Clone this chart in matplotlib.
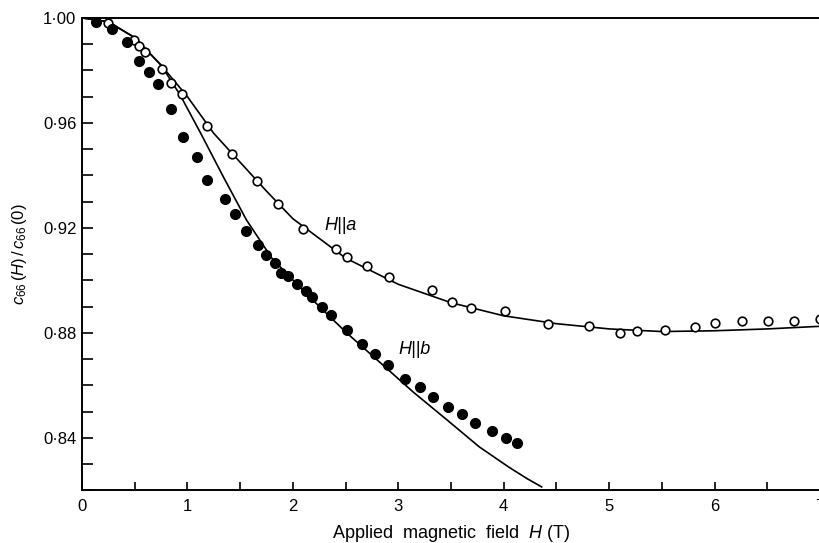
import matplotlib
matplotlib.use("Agg")
import matplotlib.pyplot as plt
from matplotlib.ticker import MultipleLocator, FuncFormatter

# H || a : open circles (field in T, normalised c66)
ha_field = [0.25, 0.49, 0.54, 0.60, 0.76, 0.84, 0.95, 1.19, 1.42, 1.66, 1.86, 2.10,
            2.41, 2.51, 2.70, 2.91, 3.32, 3.51, 3.69, 4.01, 4.42, 4.81, 5.10, 5.26,
            5.53, 5.81, 6.00, 6.26, 6.51, 6.75, 7.00]
ha_c66 = [0.9981, 0.9916, 0.9893, 0.9870, 0.9806, 0.9752, 0.9710, 0.9589, 0.9482,
          0.9379, 0.9291, 0.9196, 0.9120, 0.9090, 0.9055, 0.9013, 0.8964, 0.8918,
          0.8895, 0.8884, 0.8834, 0.8827, 0.8800, 0.8808, 0.8811, 0.8823, 0.8838,
          0.8846, 0.8846, 0.8846, 0.8853]

# H || b : filled circles
hb_field = [0.13, 0.28, 0.43, 0.54, 0.64, 0.72, 0.84, 0.96, 1.09, 1.19, 1.36, 1.45,
            1.56, 1.67, 1.75, 1.83, 1.89, 1.95, 2.04, 2.12, 2.18, 2.28, 2.36, 2.51,
            2.66, 2.78, 2.90, 3.06, 3.21, 3.33, 3.47, 3.60, 3.73, 3.89, 4.02, 4.13]
hb_c66 = [0.9985, 0.9958, 0.9909, 0.9836, 0.9794, 0.9749, 0.9653, 0.9547, 0.9470,
          0.9383, 0.9310, 0.9253, 0.9189, 0.9135, 0.9097, 0.9067, 0.9029, 0.9017,
          0.8987, 0.8960, 0.8937, 0.8899, 0.8869, 0.8811, 0.8758, 0.8720, 0.8678,
          0.8625, 0.8594, 0.8556, 0.8518, 0.8491, 0.8457, 0.8427, 0.8400, 0.8381]

# theory curves
fit_a_field = [0.0, 0.25, 0.5, 0.75, 1.0, 1.25, 1.5, 1.75, 2.0, 2.5, 3.0, 3.5, 4.0,
               4.5, 5.0, 5.5, 6.0, 6.5, 7.0]
fit_a_c66 = [1.0, 0.9985, 0.9925, 0.982, 0.970, 0.956, 0.945, 0.934, 0.9235, 0.9085,
             0.8985, 0.8915, 0.8865, 0.8835, 0.8815, 0.8805, 0.8808, 0.8815, 0.8825]

fit_b_field = [0.0, 0.25, 0.5, 0.75, 0.93, 1.12, 1.34, 1.56, 1.80, 2.04, 2.27, 2.51,
               2.83, 3.14, 3.46, 3.77, 4.05, 4.22, 4.36]
fit_b_c66 = [1.0, 0.9985, 0.9925, 0.982, 0.9707, 0.9565, 0.9395, 0.9230, 0.9085,
             0.8985, 0.8893, 0.8800, 0.8686, 0.8575, 0.8469, 0.8365, 0.8288, 0.8245,
             0.8213]

plt.rcParams['font.family'] = ['Liberation Sans', 'DejaVu Sans']
plt.rcParams['mathtext.fontset'] = 'custom'
plt.rcParams['mathtext.it'] = 'Liberation Sans:italic'
plt.rcParams['mathtext.rm'] = 'Liberation Sans'

fig = plt.figure(figsize=(8.2, 5.43), dpi=100)
ax = fig.add_axes([0.1, 0.097, 0.9, 0.870])

ax.plot(fit_a_field, fit_a_c66, color='black', lw=1.2)
ax.plot(fit_b_field, fit_b_c66, color='black', lw=1.2)
ax.plot(ha_field, ha_c66, 'o', ms=6.2, mfc='white', mec='black', mew=1.2, clip_on=False)
ax.plot(hb_field, hb_c66, 'o', ms=7, mfc='black', mec='black', clip_on=False)

ax.text(2.45, 0.921, 'H||a', fontsize=13, style='italic', ha='center', va='center')
ax.text(3.15, 0.8735, 'H||b', fontsize=13, style='italic', ha='center', va='center')

ax.set_xlim(0, 7)
ax.set_ylim(0.82, 1.00)
ax.xaxis.set_major_locator(MultipleLocator(1))
ax.xaxis.set_minor_locator(MultipleLocator(0.5))
ax.yaxis.set_major_locator(MultipleLocator(0.04))
ax.yaxis.set_minor_locator(MultipleLocator(0.01))
ax.yaxis.set_major_formatter(FuncFormatter(lambda v, p: f'{v:.2f}'.replace('.', '\u00b7')))
ax.tick_params(which='both', direction='in', width=1.2, labelsize=12)
ax.tick_params(axis='y', which='both', length=8, pad=4)
ax.tick_params(axis='x', which='both', length=6, pad=6)

ax.spines['right'].set_visible(False)
for s in ('left', 'bottom', 'top'):
    ax.spines[s].set_linewidth(1.4)

ax.set_xlabel(r'Applied  magnetic  field  $H$ (T)', fontsize=13, labelpad=7)
ax.set_ylabel(r'$c_{66}\,(H)\,/\,c_{66}\,(0)$', fontsize=12, labelpad=10)

fig.savefig('out.png', dpi=100)
